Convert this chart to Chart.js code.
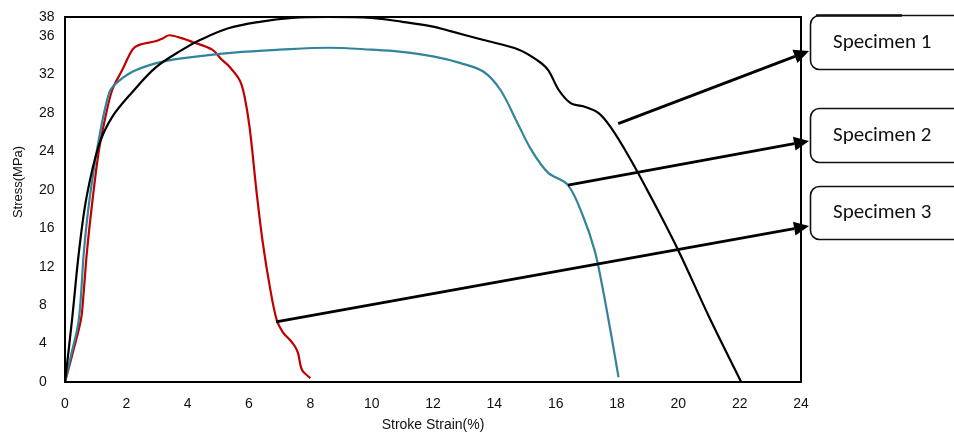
<!DOCTYPE html>
<html lang="en">
  <head>
    <meta charset="UTF-8" />
    <title>Stress vs Stroke Strain</title>
    <script src="https://cdn.jsdelivr.net/npm/chart.js@4"></script>
    <style>
      body { margin: 0; background: #fff; }
      #wrap { width: 954px; height: 435px; position: relative; }
    </style>
  </head>
  <body>
    <div id="wrap"><canvas id="myChart"></canvas></div>

    <script>
      // values
      const spec1Strain = [0, 0.23, 0.46, 0.7, 1.1, 1.54, 2.2, 2.98, 3.83, 4.4, 5.3, 6.35, 7.4, 8.6, 10.0, 11.0, 12.0, 12.6, 13.65, 14.8, 15.4, 15.75, 16.1, 16.5, 16.9, 17.4, 17.8, 18.4, 19.1, 20.0, 21.0, 22.05]
      const spec1Stress = [0, 6.5, 13.7, 19.2, 24.6, 27.6, 30.2, 32.8, 34.6, 35.6, 36.8, 37.5, 37.9, 38, 37.9, 37.5, 37.0, 36.5, 35.6, 34.6, 33.5, 32.5, 30.4, 29.0, 28.7, 28.0, 26.5, 23.4, 19.3, 13.7, 6.8, 0]

      const spec2Strain = [0, 0.2, 0.45, 0.62, 0.8, 1.1, 1.44, 1.67, 2.2, 2.98, 3.8, 5.5, 7.0, 8.6, 10.0, 10.9, 12.0, 12.9, 13.65, 14.2, 14.75, 15.2, 15.75, 16.4, 16.9, 17.27, 17.5, 17.8, 18.05]
      const spec2Stress = [0, 2.8, 6.5, 13.7, 19, 25.2, 30.1, 31.1, 32.3, 33.2, 33.7, 34.3, 34.6, 34.8, 34.6, 34.4, 33.9, 33.2, 32.3, 30.4, 27.0, 24.2, 21.8, 20.5, 17.2, 13.7, 10.3, 5.1, 0.5]

      const spec3Strain = [0, 0.25, 0.52, 0.6, 0.72, 0.9, 1.1, 1.3, 1.54, 1.87, 2.2, 2.42, 2.98, 3.2, 3.4, 3.8, 4.16, 4.8, 5.1, 5.37, 5.7, 5.85, 6.02, 6.25, 6.45, 6.68, 6.9, 7.1, 7.33, 7.5, 7.6, 7.73, 8.0]
      const spec3Stress = [0, 3, 6.5, 9, 13.7, 19, 24, 27.3, 30.4, 32.5, 34.6, 35.1, 35.5, 35.8, 36.1, 35.8, 35.4, 34.6, 33.6, 32.8, 31.4, 29.8, 26.5, 19.7, 14.5, 9.9, 6.5, 5.2, 4.4, 3.7, 3.0, 1.25, 0.4]

      const xTicks = [0, 2, 4, 6, 8, 10, 12, 14, 16, 18, 20, 22, 24]
      const yTicks = [0, 4, 8, 12, 16, 20, 24, 28, 32, 36, 38]

      const labels = ['Specimen 1', 'Specimen 2', 'Specimen 3']
      // where each arrow leaves its curve (strain, stress)
      const arrowFrom = [[18.04, 26.9], [16.4, 20.5], [6.88, 6.25]]

      function pts(xs, ys) {
        return xs.map((x, i) => ({ x: x, y: ys[i] }))
      }

      function ds(label, data, color) {
        return {
          label: label,
          data: data,
          borderColor: color,
          borderWidth: 2.2,
          pointRadius: 0,
          fill: false,
          tension: 0.35
        }
      }

      const frame = {
        id: 'frame',
        beforeDatasetsDraw(chart) {
          const { ctx, chartArea: a } = chart
          ctx.save()
          ctx.strokeStyle = '#000'
          ctx.lineWidth = 2
          ctx.strokeRect(a.left, a.top, a.right - a.left, a.bottom - a.top)
          ctx.restore()
        },
        afterDraw(chart) {
          const { ctx, chartArea: a, scales } = chart
          ctx.save()
          // axis titles
          ctx.fillStyle = '#111'
          ctx.font = '14px "Liberation Sans", Arial, sans-serif'
          ctx.textAlign = 'center'
          ctx.textBaseline = 'middle'
          ctx.fillText('Stroke Strain(%)', (a.left + a.right) / 2, 425)
          ctx.translate(18, 182)
          ctx.rotate(-Math.PI / 2)
          ctx.font = '13px "Liberation Sans", Arial, sans-serif'
          ctx.fillText('Stress(MPa)', 0, 0)
          ctx.restore()

          // callout boxes
          const boxTops = [15.5, 108.5, 186.5]
          const boxH = [54, 54, 53]
          const tips = [51, 141, 226]
          ctx.save()
          boxTops.forEach((top, i) => {
            const left = 810.5, w = 170, h = boxH[i], r = 9
            ctx.beginPath()
            ctx.roundRect(left, top, w, h, r)
            ctx.fillStyle = '#fff'
            ctx.fill()
            ctx.lineWidth = 1.6
            ctx.strokeStyle = '#111'
            ctx.stroke()
            ctx.fillStyle = '#111'
            ctx.font = '21px Carlito, "Open Sans", sans-serif'
            ctx.textAlign = 'left'
            ctx.textBaseline = 'middle'
            ctx.fillText(labels[i], 833, top + h / 2)
          })
          ctx.beginPath()
          ctx.moveTo(816, 15.5)
          ctx.lineTo(902, 15.5)
          ctx.lineWidth = 2.4
          ctx.stroke()

          // arrows
          arrowFrom.forEach((p, i) => {
            const x0 = scales.x.getPixelForValue(p[0])
            const y0 = scales.y.getPixelForValue(p[1])
            const x1 = 809, y1 = tips[i]
            const ang = Math.atan2(y1 - y0, x1 - x0)
            const len = 15, half = 7
            const bx = x1 - len * Math.cos(ang), by = y1 - len * Math.sin(ang)
            ctx.beginPath()
            ctx.moveTo(x0, y0)
            ctx.lineTo(bx, by)
            ctx.lineWidth = 2.8
            ctx.strokeStyle = '#000'
            ctx.stroke()
            ctx.beginPath()
            ctx.moveTo(x1, y1)
            ctx.lineTo(bx - half * Math.sin(ang), by + half * Math.cos(ang))
            ctx.lineTo(bx + half * Math.sin(ang), by - half * Math.cos(ang))
            ctx.closePath()
            ctx.fillStyle = '#000'
            ctx.fill()
          })
          ctx.restore()
        }
      }

      const ctx = document.getElementById('myChart').getContext('2d')
      const myChart = new Chart(ctx, {
        type: 'line',
        data: {
          datasets: [
            ds('Specimen 1', pts(spec1Strain, spec1Stress), '#000000'),
            ds('Specimen 2', pts(spec2Strain, spec2Stress), '#31849b'),
            ds('Specimen 3', pts(spec3Strain, spec3Stress), '#c00000')
          ]
        },
        options: {
          responsive: true,
          maintainAspectRatio: false,
          animation: false,
          layout: { padding: { left: 39, top: 17, right: 153, bottom: 0 } },
          plugins: { legend: { display: false }, tooltip: { enabled: false } },
          scales: {
            x: {
              type: 'linear',
              min: 0,
              max: 24,
              afterBuildTicks: s => { s.ticks = xTicks.map(v => ({ value: v })) },
              afterFit: s => { s.height = 53 },
              grid: { display: false, drawTicks: false },
              border: { display: false },
              ticks: {
                padding: 14,
                color: '#111',
                font: { family: '"Liberation Sans", Arial, sans-serif', size: 14 }
              }
            },
            y: {
              type: 'linear',
              min: 0,
              max: 38,
              afterBuildTicks: s => { s.ticks = yTicks.map(v => ({ value: v })) },
              afterFit: s => { s.width = 26 },
              grid: { display: false, drawTicks: false },
              border: { display: false },
              ticks: {
                crossAlign: 'far',
                color: '#111',
                font: { family: '"Liberation Sans", Arial, sans-serif', size: 14 }
              }
            }
          }
        },
        plugins: [frame]
      })
    </script>
  </body>
</html>
